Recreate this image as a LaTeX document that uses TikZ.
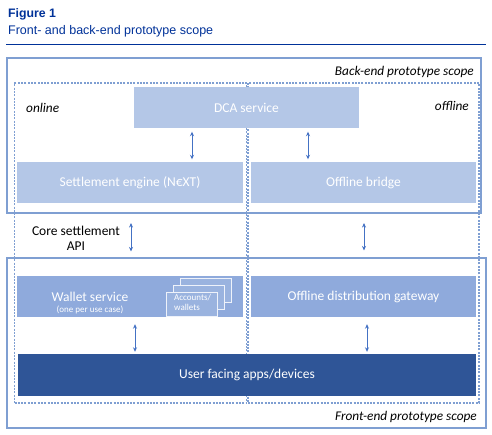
\documentclass[tikz,border=0pt]{standalone}
\usepackage{fontspec}
\setmainfont{Carlito}
\newfontfamily\arialf{Liberation Sans}
\usetikzlibrary{arrows.meta}
\definecolor{ecbblue}{HTML}{003299}
\definecolor{lightbox}{HTML}{B4C7E7}
\definecolor{midbox}{HTML}{8FAADC}
\definecolor{darkbox}{HTML}{2F5597}
\definecolor{arrowc}{HTML}{4472C4}
\definecolor{framec}{HTML}{7F9FD2}
\definecolor{dashc}{HTML}{7F9FD2}
\begin{document}
\begin{tikzpicture}[x=1pt,y=-1pt,
  frame/.style={draw=framec, line width=1.1pt},
  dbox/.style={draw=dashc, line width=1.1pt, dash pattern=on 2pt off 1.3pt},
  blk/.style={inner sep=0pt, text=white, font=\fontsize{13.5}{15}\selectfont},
  arr/.style={draw=arrowc, line width=0.9pt, {Stealth[length=4.5pt,width=4pt]}-{Stealth[length=4.5pt,width=4pt]}},
  lab/.style={inner sep=0pt, font=\fontsize{13.5}{15}\selectfont},
  ilab/.style={inner sep=0pt, font=\fontsize{13.3}{15}\selectfont\itshape},
  small/.style={inner sep=0pt, text=white, font=\fontsize{9}{10}\selectfont},
  acc/.style={fill=midbox!70!lightbox, draw=white!85!midbox, line width=0.6pt}]
\useasboundingbox (0,0) rectangle (492,434);
\fill[white] (0,0) rectangle (492,434);
% title
\node[anchor=base west, inner sep=0pt, text=ecbblue, font=\arialf\bfseries\fontsize{12.3}{14}\selectfont] (fig) at (8,17.5) {Figure 1};
\node[anchor=base west, inner sep=0pt, text=ecbblue, font=\arialf\fontsize{12.5}{14}\selectfont] (sub) at (8,34.5) {Front- and back-end prototype scope};
\coordinate (r1) at (6,44); \coordinate (r2) at (486,44);
\draw[ecbblue, line width=0.8pt] (r1) -- (r2);
% solid frames
\node[frame, inner sep=0pt, minimum width=474pt, minimum height=155pt] (backend) at (244,135.5) {};
\node[frame, inner sep=0pt, minimum width=479pt, minimum height=170pt] (frontend) at (246.5,343) {};
% dashed frames
\node[dbox, inner sep=0pt, minimum width=232pt, minimum height=320pt] (online) at (130.5,243) {};
\node[dbox, inner sep=0pt, minimum width=231pt, minimum height=320pt] (offline) at (363.5,243) {};
% labels
\node[ilab, anchor=base east] (bel) at (474,75) {Back-end prototype scope};
\node[ilab, anchor=base east] (fel) at (477,420) {Front-end prototype scope};
\node[ilab, anchor=base west] (onl) at (26,112) {online};
\node[ilab, anchor=base east] (ofl) at (469,110) {offline};
% boxes
\node[blk, fill=lightbox, minimum width=225pt, minimum height=41pt] (dca) at (246.5,107.5) {DCA service};
\node[blk, fill=lightbox, minimum width=226pt, minimum height=41pt] (se) at (130,182.5) {Settlement engine (N€XT)};
\node[blk, fill=lightbox, minimum width=225pt, minimum height=41pt] (ob) at (363.5,182.5) {Offline bridge};
\node[blk, fill=midbox, minimum width=226pt, minimum height=41pt] (ws) at (130,296.5) {};
\node[blk, fill=midbox, minimum width=225pt, minimum height=41pt] (odg) at (363.5,296.5) {Offline distribution gateway};
\node[blk, fill=darkbox, minimum width=458pt, minimum height=42pt] (ufa) at (247,375) {User facing apps/devices};
\node[blk, anchor=base] (wst) at (90,301) {Wallet service};
\node[small, anchor=base] (wss) at (90,312.5) {(one per use case)};
% accounts stack
\node[acc, inner sep=0pt, minimum width=51pt, minimum height=24pt] (acc3) at (205.5,290) {};
\node[acc, inner sep=0pt, minimum width=51pt, minimum height=24pt] (acc2) at (198.5,297) {};
\node[acc, inner sep=0pt, minimum width=51pt, minimum height=24pt] (acc1) at (192,304) {};
\node[small, anchor=base west] (acct) at (174,300.5) {Accounts/};
\node[small, anchor=base west] (accw) at (174,310.5) {wallets};
% core settlement API
\node[lab, anchor=base] (csa1) at (76,235) {Core settlement};
\node[lab, anchor=base] (csa2) at (76,250) {API};
% arrows
\coordinate (x1) at (192,0);
\coordinate (x2) at (308,0);
\coordinate (x3) at (131,0);
\coordinate (x4) at (364,0);
\coordinate (x5) at (135,0);
\coordinate (x6) at (367,0);
\draw[arr, shorten <=3.5pt, shorten >=2.5pt] (dca.south -| x1) -- (se.north -| x1);
\draw[arr, shorten <=3.5pt, shorten >=2.5pt] (dca.south -| x2) -- (ob.north -| x2);
\draw[arr, shorten <=9.5pt, shorten >=6pt] (backend.south -| x3) -- (frontend.north -| x3);
\draw[arr, shorten <=9.5pt, shorten >=7pt] (backend.south -| x4) -- (frontend.north -| x4);
\draw[arr, shorten <=7pt, shorten >=2pt] (ws.south -| x5) -- (ufa.north -| x5);
\draw[arr, shorten <=7pt, shorten >=2pt] (odg.south -| x6) -- (ufa.north -| x6);
\end{tikzpicture}
\end{document}
